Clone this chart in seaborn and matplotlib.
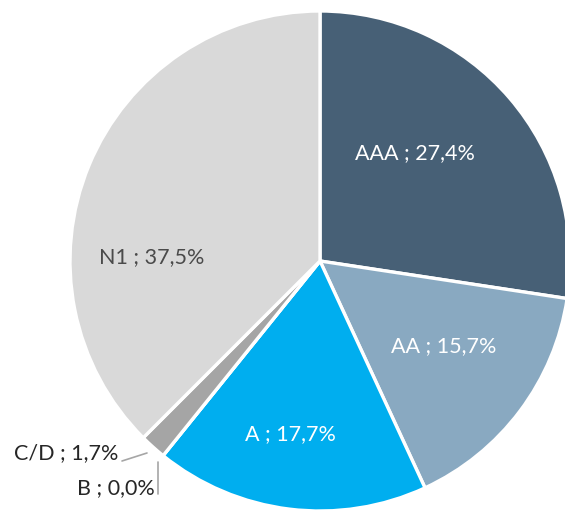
import matplotlib
matplotlib.use('Agg')
import matplotlib.pyplot as plt
import seaborn as sns

# données
categories = ['AAA', 'AA', 'A', 'B', 'C/D', 'N1']
parts = [27.4, 15.7, 17.7, 0.0, 1.7, 37.5]
couleurs = ['#476076', '#89A9C1', '#00AEEF', '#7F7F7F', '#A5A5A5', '#D9D9D9']

sns.set_theme(style='white')
plt.rcParams['font.family'] = ['Lato', 'DejaVu Sans']

def etiquette(cat, val):
    return f"{cat} ; {val:.1f}%".replace('.', ',')

fig = plt.figure(figsize=(5.65, 5.14), dpi=100)
ax = fig.add_axes([0, 0, 1, 1])

ax.pie(parts, colors=couleurs, startangle=90, counterclock=False,
       radius=1.0, wedgeprops=dict(edgecolor='white', linewidth=2.4))

# étiquettes internes
pos_int = {'AAA': (0.38, 0.432), 'AA': (0.496, -0.34), 'A': (-0.12, -0.692), 'N1': (-0.672, 0.016)}
for cat, val in zip(categories, parts):
    if cat in pos_int:
        x, y = pos_int[cat]
        c = '#4A4A4A' if cat == 'N1' else 'white'
        ax.text(x, y, etiquette(cat, val), ha='center', va='center',
                fontsize=15.5, color=c, fontweight='normal')

# étiquettes externes avec traits de rappel
ax.plot([-0.792, -0.692], [-0.8, -0.768], color='#A6A6A6', lw=1.2)
ax.plot([-0.648, -0.648], [-0.804, -0.932], color='#A6A6A6', lw=1.2)
ax.text(-0.808, -0.768, etiquette('C/D', parts[4]), ha='right', va='center',
        fontsize=15.5, color='#262626', fontweight='normal')
ax.text(-0.66, -0.908, etiquette('B', parts[3]), ha='right', va='center',
        fontsize=15.5, color='#262626', fontweight='normal')

ax.set_xlim(-1.28, 0.98)
ax.set_ylim(-1.012, 1.044)
ax.set_aspect('equal')
ax.axis('off')

fig.savefig('out.png', dpi=100)
